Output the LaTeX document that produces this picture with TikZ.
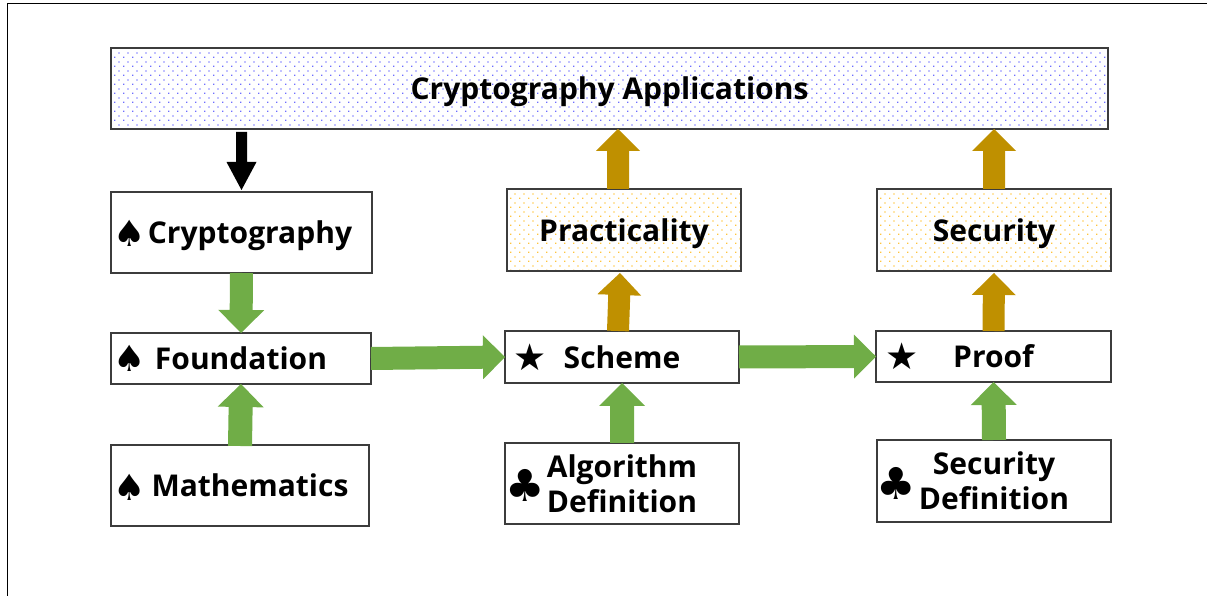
\documentclass[tikz,border=0pt]{standalone}
\usepackage{fontspec}
\setmainfont{Open Sans}
\newfontfamily\symfont{DejaVu Sans}
\usetikzlibrary{calc,patterns.meta}

\definecolor{arrgreen}{RGB}{112,173,71}
\definecolor{arrgold}{RGB}{191,144,0}
\definecolor{boxline}{RGB}{60,60,60}
\definecolor{bluedot}{RGB}{110,110,255}
\definecolor{golddot}{RGB}{255,196,60}

\tikzdeclarepattern{name=bluedots, type=colored,
  bottom left={(0pt,0pt)}, top right={(8.8pt,8.8pt)}, tile size={(8.8pt,8.8pt)},
  code={\tikzset{x=1pt,y=1pt}
    \fill[bluedot] (0,0) rectangle (1.3,1.3);
    \fill[bluedot] (4.4,4.4) rectangle (5.7,5.7);}}
\tikzdeclarepattern{name=golddots, type=colored,
  bottom left={(0pt,0pt)}, top right={(8.8pt,8.8pt)}, tile size={(8.8pt,8.8pt)},
  code={\tikzset{x=1pt,y=1pt}
    \fill[golddot] (0,0) rectangle (1.3,1.3);
    \fill[golddot] (4.4,4.4) rectangle (5.7,5.7);}}

% block arrow: colour, start, end, shaft half width, head half width, head length
\newcommand\blockarrow[6]{%
  \coordinate (ba-s) at #2;
  \coordinate (ba-e) at #3;
  \coordinate (ba-b) at ($(ba-e)!#6!(ba-s)$);
  \fill[#1] ($(ba-s)!#4!90:(ba-e)$) -- ($(ba-b)!#4!90:(ba-e)$) -- ($(ba-b)!#5!90:(ba-e)$)
    -- (ba-e) -- ($(ba-b)!#5!-90:(ba-e)$) -- ($(ba-b)!#4!-90:(ba-e)$)
    -- ($(ba-s)!#4!-90:(ba-e)$) -- cycle;}

\tikzset{
  box/.style={draw=boxline, line width=1.3pt, fill=white, inner sep=0pt, outer sep=0pt,
    font=\bfseries\fontsize{30}{35}\selectfont, align=center},
  nodesc/.style={text depth=0pt},
  sym/.style={inner sep=0pt, anchor=west, font=\symfont\fontsize{36}{36}\selectfont},
}

\begin{document}
\begin{tikzpicture}[x=1pt,y=1pt]
\useasboundingbox (0,0) rectangle (1207,596);
% outer frame (left and top edges)
\draw[line width=1.2pt] (7.5,0) -- (7.5,592.5) -- (1207,592.5);

% boxes
\node[box, nodesc, minimum width=997pt, minimum height=81pt, pattern=bluedots] (top) at (609.5,507.5) {Cryptography Applications};
\node[box, nodesc, minimum width=261pt, minimum height=81pt] (crypto) at (241.5,363.5) {\hspace*{17pt}Cryptography};
\node[box, minimum width=260pt, minimum height=51pt] (found) at (241,237.5) {Foundation};
\node[box, minimum width=258pt, minimum height=81pt] (math) at (240,110.5) {\hspace*{20pt}Mathematics};
\node[box, nodesc, minimum width=234pt, minimum height=82pt, pattern=golddots] (pract) at (624,366) {Practicality};
\node[box, minimum width=234pt, minimum height=52pt] (scheme) at (622,239) {Scheme};
\node[box, minimum width=234pt, minimum height=81pt] (algo) at (622,112.5) {Algorithm\\Definition};
\node[box, nodesc, minimum width=234pt, minimum height=82pt, pattern=golddots] (secur) at (994,366) {Security};
\node[box, minimum width=235pt, minimum height=51pt] (proof) at (993.5,239.5) {Proof};
\node[box, minimum width=234pt, minimum height=82pt] (secdef) at (994,115) {Security\\Definition};

% symbols
\node[sym] (s1) at ([xshift=2pt,yshift=-1pt]crypto.west) {♠};
\node[sym] (s2) at ([xshift=2pt]found.west) {♠};
\node[sym] (s3) at ([xshift=2pt,yshift=-2pt]math.west) {♠};
\node[sym, font=\symfont\fontsize{37}{37}\selectfont] (s4) at ([xshift=8pt]scheme.west) {★};
\node[sym, font=\symfont\fontsize{37}{37}\selectfont] (s5) at ([xshift=9pt]proof.west) {★};
\node[sym, font=\symfont\fontsize{44}{44}\selectfont] (s6) at ([xshift=0pt,yshift=-2pt]algo.west) {♣};
\node[sym, font=\symfont\fontsize{44}{44}\selectfont] (s7) at ([xshift=-1pt,yshift=-2pt]secdef.west) {♣};

% arrows
\blockarrow{black}{([yshift=-3pt]crypto.north |- top.south)}{([yshift=2pt]crypto.north)}{5.5pt}{15pt}{28pt}
\blockarrow{arrgreen}{(crypto.south)}{(found.north)}{11.5pt}{23pt}{23pt}
\blockarrow{arrgreen}{([yshift=-1pt]math.north)}{(found.south)}{12pt}{23pt}{23pt}
\blockarrow{arrgreen}{(found.east)}{(scheme.west)}{11.5pt}{22pt}{22pt}
\blockarrow{arrgreen}{(scheme.east)}{(proof.west)}{11.5pt}{22pt}{22pt}
\blockarrow{arrgreen}{(algo.north)}{(scheme.south)}{12pt}{23pt}{23pt}
\blockarrow{arrgreen}{(secdef.north)}{(proof.south)}{12pt}{23pt}{23pt}
\blockarrow{arrgold}{([xshift=-4pt]scheme.north)}{([xshift=-4pt,yshift=-2pt]pract.south)}{11pt}{22pt}{22pt}
\blockarrow{arrgold}{([xshift=-6pt]pract.north)}{([xshift=-6pt]pract.north |- top.south)}{11pt}{22pt}{22pt}
\blockarrow{arrgold}{(proof.north)}{([yshift=-2pt]secur.south)}{11pt}{22pt}{22pt}
\blockarrow{arrgold}{(secur.north)}{(secur.north |- top.south)}{11pt}{22pt}{22pt}
\end{tikzpicture}
\end{document}
